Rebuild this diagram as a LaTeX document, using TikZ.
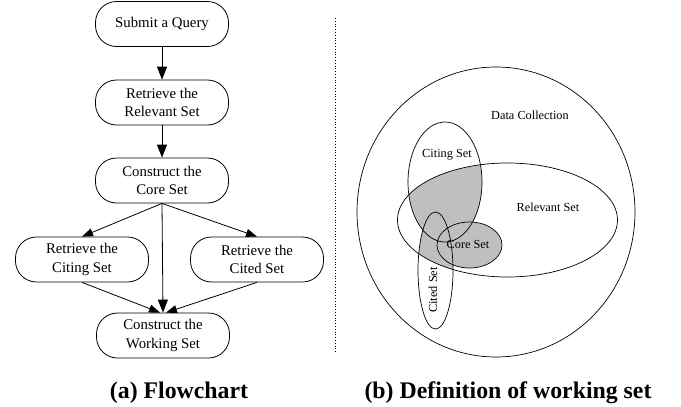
\documentclass[tikz,border=0pt]{standalone}
\usepackage{fontspec}
\setmainfont{Liberation Serif}
\usetikzlibrary{arrows.meta}
\begin{document}
\begin{tikzpicture}[x=1pt,y=-1pt,
  flowbox/.style={draw,line width=0.8pt,rounded corners=21pt,minimum width=133pt,minimum height=45pt,
    align=center,inner sep=0pt,font=\fontsize{14.8}{18.5}\selectfont},
  flowarrow/.style={draw,line width=0.8pt,-{Triangle[length=13pt,width=10pt]}},
  sidearrow/.style={draw,line width=0.8pt,-{Triangle[length=11pt,width=8pt]}},
  setline/.style={draw,line width=0.7pt},
  setlabel/.style={font=\fontsize{12.3}{14}\selectfont,inner sep=0pt},
  caption/.style={font=\fontsize{23.8}{26}\selectfont\bfseries,inner sep=0pt}]
\useasboundingbox (0,0) rectangle (681,407);
% flowchart
\node[flowbox] (query) at (162,24) {Submit a Query};
\node[flowbox] (relevant) at (162,102.5) {Retrieve the\\Relevant Set};
\node[flowbox] (core) at (162,180.5) {Construct the\\Core Set};
\node[flowbox] (citing) at (82,259.5) {Retrieve the\\Citing Set};
\node[flowbox] (cited) at (257,259.5) {Retrieve the\\Cited Set};
\node[flowbox] (working) at (163,335.5) {Construct the\\Working Set};
\draw[flowarrow] (query) -- (relevant);
\draw[flowarrow] (relevant) -- (core);
\draw[sidearrow] (core.south) -- (citing.north);
\draw[sidearrow] (core.south) -- (cited.north);
\draw[flowarrow] (core.south) -- (working.north);
\draw[sidearrow] (citing.south) -- ([xshift=-3pt]working.north);
\draw[sidearrow] (cited.south) -- ([xshift=3pt]working.north);
\node[caption] (capa) at (179,393) {(a) Flowchart};
% separator
\coordinate (septop) at (335,18);
\coordinate (sepbot) at (335,352);
\draw[line width=0.8pt,dotted] (septop) -- (sepbot);
% sets
\begin{scope}
\clip (507.5,220) ellipse [x radius=110, y radius=57];
\fill[black!25] (445,182) ellipse [x radius=37, y radius=60];
\fill[black!25] (435.5,270.5) ellipse [x radius=17.5, y radius=58.5];
\end{scope}
\fill[black!25] (469.5,245) ellipse [x radius=32.5, y radius=23];
\draw[setline] (496,212) ellipse [x radius=139, y radius=145];
\draw[setline] (507.5,220) ellipse [x radius=110, y radius=57];
\draw[setline] (445,182) ellipse [x radius=37, y radius=60];
\draw[setline] (469.5,245) ellipse [x radius=32.5, y radius=23];
\draw[setline] (435.5,270.5) ellipse [x radius=17.5, y radius=58.5];
\node[setlabel] (dc) at (530,115) {Data Collection};
\node[setlabel] (rs) at (548,207) {Relevant Set};
\node[setlabel] (cis) at (447,155) {Citing Set};
\node[setlabel] (cos) at (468,244) {Core Set};
\node[setlabel,rotate=90] (ces) at (433,290) {Cited Set};
\node[caption] (capb) at (508,393) {(b) Definition of working set};
\end{tikzpicture}
\end{document}
